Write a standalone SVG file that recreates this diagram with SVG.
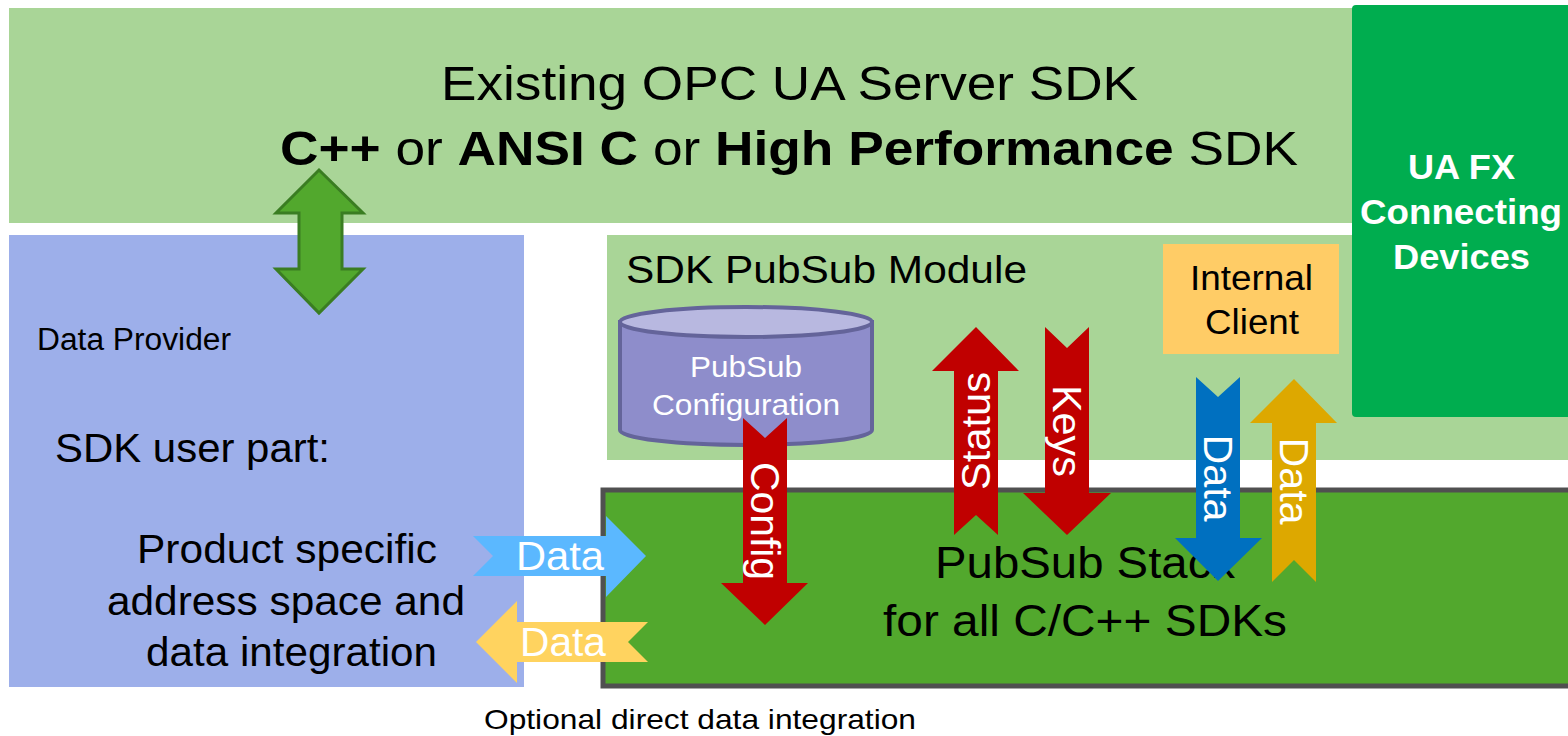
<svg xmlns="http://www.w3.org/2000/svg" width="1568" height="736" viewBox="0 0 1568 736">
<style>
text{font-family:"Liberation Sans",Arial,sans-serif;}
.w{fill:#fff;}
.k{fill:#000;}
.m{text-anchor:middle;}
.lbl{fill:#fff;font-size:40px;text-anchor:middle;dominant-baseline:central;}
.red{fill:#C00000;}
</style>
<rect width="1568" height="736" fill="#fff"/>
<g id="server-sdk">
<rect x="9" y="8" width="1559" height="215" fill="#A9D597"/>
<text x="789.5" y="100" font-size="48" class="k m" textLength="697" lengthAdjust="spacingAndGlyphs">Existing OPC UA Server SDK</text>
<text x="789" y="165" font-size="48" class="k m" textLength="1018" lengthAdjust="spacingAndGlyphs"><tspan font-weight="bold">C++</tspan> or <tspan font-weight="bold">ANSI C</tspan> or <tspan font-weight="bold">High Performance</tspan> SDK</text>
</g>
<g id="data-provider">
<rect x="9" y="235" width="515" height="452" fill="#9DAFEA"/>
<text x="37" y="350" font-size="31" class="k" textLength="194" lengthAdjust="spacingAndGlyphs">Data Provider</text>
<text x="55" y="462" font-size="41" class="k" textLength="275" lengthAdjust="spacingAndGlyphs">SDK user part:</text>
<text x="287" y="563" font-size="41" class="k m" textLength="300" lengthAdjust="spacingAndGlyphs">Product specific</text>
<text x="286" y="615" font-size="41" class="k m" textLength="358" lengthAdjust="spacingAndGlyphs">address space and</text>
<text x="291.5" y="666" font-size="41" class="k m" textLength="291" lengthAdjust="spacingAndGlyphs">data integration</text>
</g>
<g id="pubsub-module">
<rect x="607" y="235" width="961" height="225" fill="#A9D597"/>
<text x="626" y="283" font-size="39" class="k" textLength="401" lengthAdjust="spacingAndGlyphs">SDK PubSub Module</text>
</g>
<g id="ua-fx">
<rect x="1352" y="5" width="230" height="412" rx="4" fill="#00AD4F"/>
<text x="1461.5" y="179" font-size="35" font-weight="bold" class="w m" textLength="107" lengthAdjust="spacingAndGlyphs">UA FX</text>
<text x="1461" y="224" font-size="35" font-weight="bold" class="w m" textLength="202" lengthAdjust="spacingAndGlyphs">Connecting</text>
<text x="1461.5" y="269" font-size="35" font-weight="bold" class="w m" textLength="137" lengthAdjust="spacingAndGlyphs">Devices</text>
</g>
<g id="internal-client">
<rect x="1163" y="244" width="176" height="110" fill="#FFCC66"/>
<text x="1251.5" y="290" font-size="35" class="k m" textLength="123" lengthAdjust="spacingAndGlyphs">Internal</text>
<text x="1252" y="334" font-size="35" class="k m" textLength="94" lengthAdjust="spacingAndGlyphs">Client</text>
</g>
<g id="pubsub-stack">
<rect x="603" y="490" width="970" height="196" fill="#52A82D" stroke="#505050" stroke-width="5"/>
<text x="1085" y="578" font-size="45" class="k m" textLength="300" lengthAdjust="spacingAndGlyphs">PubSub Stack</text>
<text x="1085" y="636" font-size="45" class="k m" textLength="404" lengthAdjust="spacingAndGlyphs">for all C/C++ SDKs</text>
</g>
<g id="pubsub-config">
<path d="M620,322 L620,430 A126,15 0 0 0 872,430 L872,322 Z" fill="#8E8DCB" stroke="#64649A" stroke-width="4"/>
<ellipse cx="746" cy="322" rx="126" ry="15" fill="#B8B8E0" stroke="#64649A" stroke-width="4"/>
<text x="746" y="377" font-size="30" class="w m" textLength="112" lengthAdjust="spacingAndGlyphs">PubSub</text>
<text x="746" y="415" font-size="30" class="w m" textLength="188" lengthAdjust="spacingAndGlyphs">Configuration</text>
</g>
<g id="connectors">
<path d="M319,170 L363,213 L342,213 L342,269 L363,269 L319,313 L276,269 L299,269 L299,213 L276,213 Z" fill="#52A82D" stroke="#3A7D22" stroke-width="3"/>
<path class="red" d="M743,418 L765,438 L787,418 L787,583 L808,583 L765,625 L721,583 L743,583 Z"/>
<text class="lbl" transform="translate(765,521) rotate(90)" textLength="118" lengthAdjust="spacingAndGlyphs">Config</text>
<path class="red" d="M976,327 L1019,371 L998,371 L998,535 L976,515 L954,535 L954,371 L932,371 Z"/>
<text class="lbl" transform="translate(976,431) rotate(-90)" textLength="118" lengthAdjust="spacingAndGlyphs">Status</text>
<path class="red" d="M1045,327 L1067,348 L1089,327 L1089,493 L1111,493 L1067,535 L1023,493 L1045,493 Z"/>
<text class="lbl" transform="translate(1067,431) rotate(90)" textLength="92" lengthAdjust="spacingAndGlyphs">Keys</text>
<path fill="#0070C0" d="M1196,377 L1218,397 L1240,377 L1240,538 L1262,538 L1218,581 L1175,538 L1196,538 Z"/>
<text class="lbl" transform="translate(1218,478) rotate(90)" textLength="87" lengthAdjust="spacingAndGlyphs">Data</text>
<path fill="#DDA800" d="M1294,379 L1337,423 L1316,423 L1316,582 L1294,560 L1272,582 L1272,423 L1250,423 Z"/>
<text class="lbl" transform="translate(1294,481) rotate(90)" textLength="87" lengthAdjust="spacingAndGlyphs">Data</text>
<path fill="#5BB8FF" d="M473,536 L606,536 L606,516 L646,556 L606,597 L606,576 L473,576 L493,556 Z"/>
<text class="lbl" x="560" y="556" textLength="88" lengthAdjust="spacingAndGlyphs">Data</text>
<path fill="#FFD35F" d="M476,642 L517,601 L517,622 L648,622 L628,642 L648,662 L517,662 L517,683 Z"/>
<text class="lbl" x="563" y="642" textLength="86" lengthAdjust="spacingAndGlyphs">Data</text>
</g>
<text x="700" y="729" font-size="28" class="k m" textLength="432" lengthAdjust="spacingAndGlyphs">Optional direct data integration</text>
</svg>
